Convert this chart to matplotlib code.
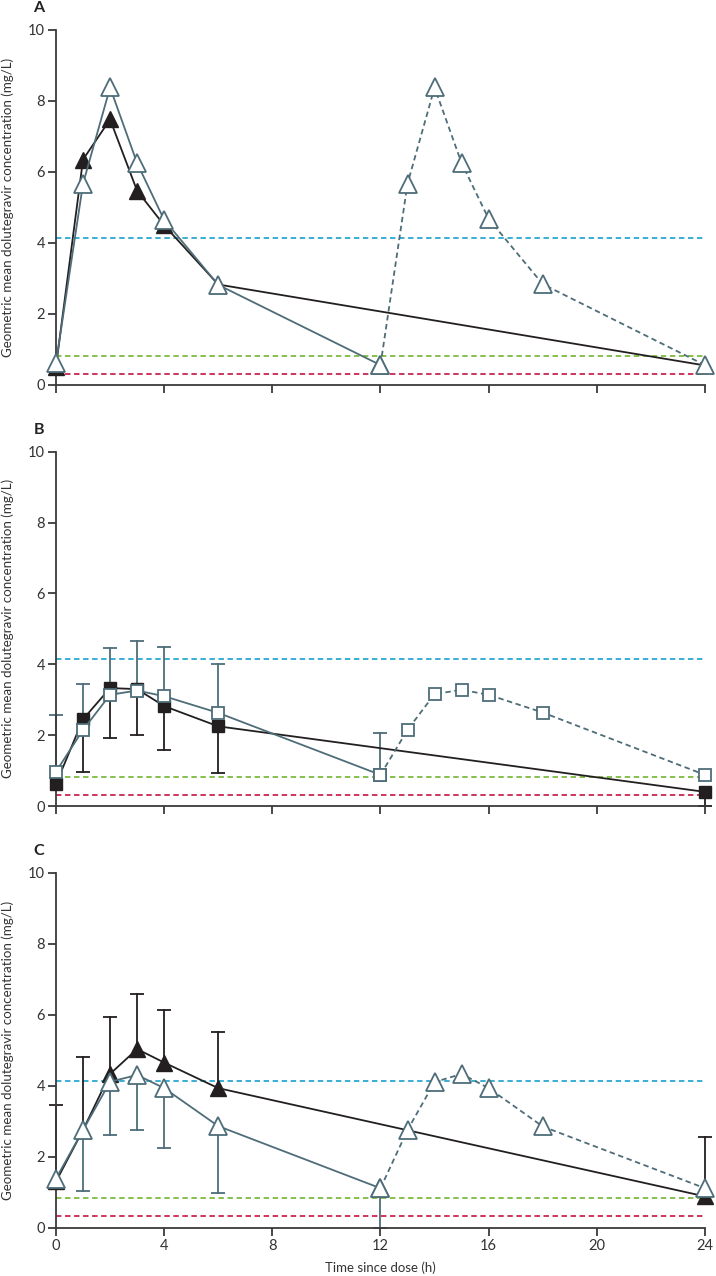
import numpy as np
import matplotlib
matplotlib.use('Agg')
import matplotlib.pyplot as plt

plt.rcParams['font.family'] = ['Lato', 'DejaVu Sans']

# sampling times (h)
t_first = [0, 1, 2, 3, 4, 6, 12]
t_once = [0, 1, 2, 3, 4, 6, 24]
t_second = [12, 13, 14, 15, 16, 18, 24]

# reference concentrations (mg/L)
ref_levels = [4.14, 0.83, 0.32]
ref_colors = ['#2aa7d1', '#7cbb3f', '#c9244f']

# panel A
a_once = [0.52, 6.35, 7.48, 5.47, 4.50, 2.83, 0.55]
a_twice = [0.62, 5.67, 8.38, 6.25, 4.65, 2.82, 0.56]
a_second = [0.56, 5.67, 8.38, 6.25, 4.68, 2.84, 0.56]

# panel B
b_once = [0.62, 2.45, 3.33, 3.30, 2.82, 2.25, 0.40]
b_once_lo = [0.62, 0.97, 1.91, 2.00, 1.58, 0.94, 0.0]
b_twice = [0.97, 2.15, 3.14, 3.26, 3.10, 2.63, 0.88]
b_twice_hi = [2.57, 3.44, 4.45, 4.67, 4.48, 4.00, 2.07]
b_second = [0.88, 2.15, 3.16, 3.28, 3.14, 2.64, 0.88]

# panel C
c_once = [1.30, 2.75, 4.33, 5.03, 4.65, 3.93, 0.88]
c_once_hi = [3.46, 4.80, 5.92, 6.58, 6.13, 5.51, 2.56]
c_twice = [1.38, 2.75, 4.11, 4.30, 3.93, 2.86, 1.11]
c_twice_lo = [1.38, 1.04, 2.61, 2.75, 2.24, 0.97, 0.0]
c_second = [1.11, 2.75, 4.10, 4.33, 3.93, 2.85, 1.11]

BLACK = '#231f20'
TEAL = '#4e6d78'
AXIS = '#3a3a3a'


def errbars(ax, t, start, end, color):
    for x, y0, y1 in zip(t, start, end):
        if abs(y1 - y0) < 1e-6:
            continue
        ax.plot([x, x], [y0, y1], color=color, lw=1.3, zorder=1, clip_on=False)
        ax.plot([x], [y1], marker='_', ms=9.5, mew=1.3, color=color, zorder=1, clip_on=False)


def plot_panel(ax, letter, once, twice, second, marker, ms_open, ms_fill,
               once_err=None, twice_err=None, last=False):
    for lvl, col in zip(ref_levels, ref_colors):
        ax.plot([0, 24], [lvl, lvl], color=col, lw=1.3, dashes=(3, 2), zorder=1)

    if once_err is not None:
        errbars(ax, t_once, once, once_err, BLACK)
    ax.plot(t_once, once, color=BLACK, lw=1.3, marker=marker, ms=ms_fill,
            mfc=BLACK, mec=BLACK, zorder=3, clip_on=False)

    if twice_err is not None:
        errbars(ax, t_first, twice, twice_err, TEAL)
    ax.plot(t_second, second, color=TEAL, lw=1.3, dashes=(3, 2), zorder=3, clip_on=False)
    ax.plot(t_second, second, ls='none', marker=marker, ms=ms_open, mfc='white',
            mec=TEAL, mew=1.3, zorder=4, clip_on=False)
    ax.plot(t_first, twice, color=TEAL, lw=1.3, marker=marker, ms=ms_open,
            mfc='white', mec=TEAL, mew=1.3, zorder=4, clip_on=False)

    ax.set_xlim(0, 24)
    ax.set_ylim(0, 10)
    ax.set_xticks([0, 4, 8, 12, 16, 20, 24])
    ax.set_yticks([0, 2, 4, 6, 8, 10])
    for s in ['top', 'right']:
        ax.spines[s].set_visible(False)
    for s in ['left', 'bottom']:
        ax.spines[s].set_color(AXIS)
        ax.spines[s].set_linewidth(1.3)
    ax.tick_params(direction='out', length=6, width=1.3, color=AXIS,
                   labelsize=10.5, labelcolor='#333333', pad=2)
    if not last:
        ax.tick_params(axis='x', labelbottom=False)
    ax.set_ylabel('Geometric mean dolutegravir concentration (mg/L)',
                  fontsize=9.6, color='#333333')
    ax.yaxis.set_label_coords(-0.0645, 0.5)
    ax.text(-0.026, 1.062, letter, transform=ax.transAxes, fontsize=11.5,
            fontweight='bold', ha='center', va='center', color='#222222')


fig = plt.figure(figsize=(7.16, 12.76), dpi=100)
ax_a = fig.add_axes([0.0782, 0.6983, 0.9064, 0.2782])
ax_b = fig.add_axes([0.0782, 0.3683, 0.9064, 0.2777])
ax_c = fig.add_axes([0.0782, 0.0379, 0.9064, 0.2782])

plot_panel(ax_a, 'A', a_once, a_twice, a_second, '^', 13, 11)
plot_panel(ax_b, 'B', b_once, b_twice, b_second, 's', 9, 8.5,
           once_err=b_once_lo, twice_err=b_twice_hi)
plot_panel(ax_c, 'C', c_once, c_twice, c_second, '^', 13, 11,
           once_err=c_once_hi, twice_err=c_twice_lo, last=True)

fig.text(380.5 / 716, 1 - 1268 / 1276, 'Time since dose (h)', fontsize=9.5,
         ha='center', va='center', color='#333333')

fig.savefig('out.png', dpi=100)
